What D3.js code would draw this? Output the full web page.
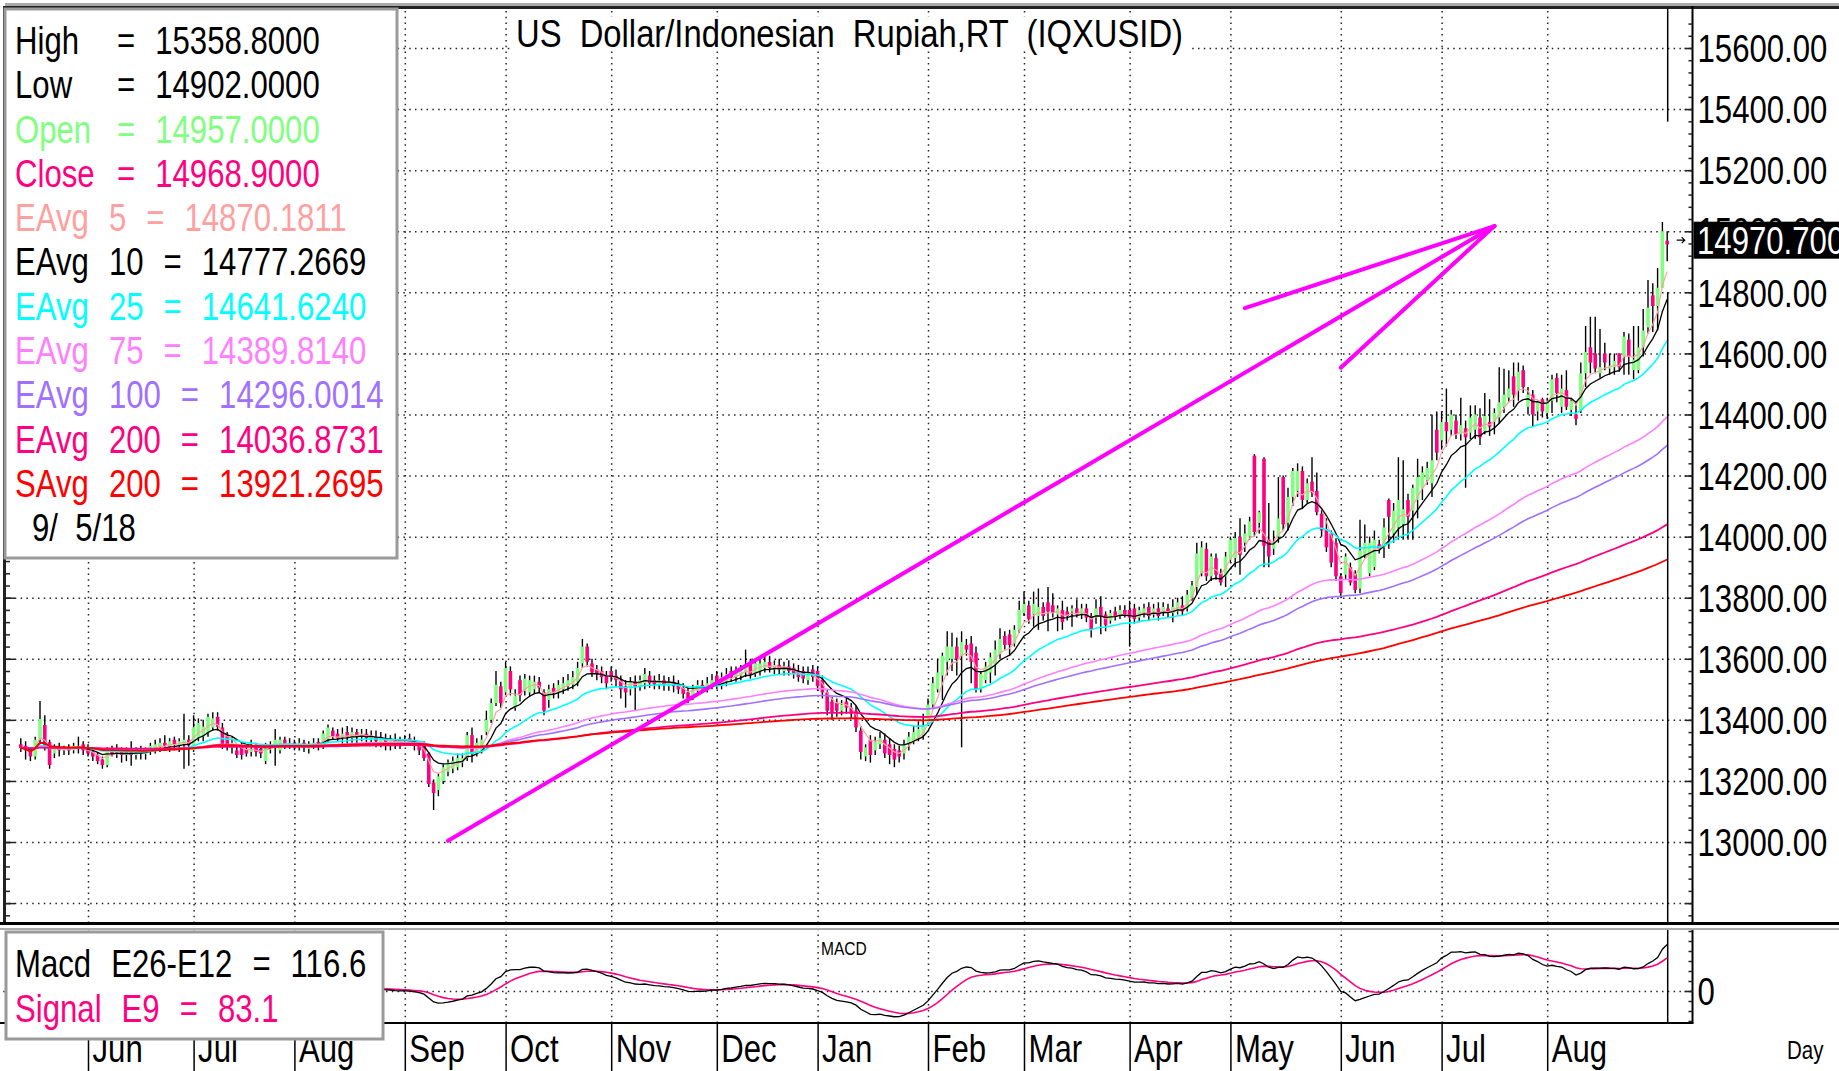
<!DOCTYPE html>
<html>
<head>
<meta charset="utf-8">
<script src="https://cdn.jsdelivr.net/npm/d3@7"></script>
<style>
  body { margin: 0; background: #fff; overflow: hidden; }
  text { font-family: "Liberation Sans", Arial, sans-serif; white-space: pre; }
</style>
</head>
<body>
<svg id="chart" width="1839" height="1071"></svg>
<script>
// ---- data ---------------------------------------------------------------
const title = "US  Dollar/Indonesian  Rupiah,RT  (IQXUSID)";

// trading days per month, May'17 (partial) .. Sep'18 (partial)
const monthDays = [14, 22, 21, 23, 21, 22, 22, 21, 23, 20, 22, 21, 23, 21, 22, 23, 3];
const monthLabels = ["Jun", "Jul", "Aug", "Sep", "Oct", "Nov", "Dec", "Jan", "Feb", "Mar", "Apr", "May", "Jun", "Jul", "Aug"];

// daily candles [open, high, low, close]
const ohlc = [
  // May 2017
  [13320,13340,13295,13308],[13315,13330,13270,13300],[13300,13310,13265,13280],[13280,13345,13270,13335],
  [13335,13462,13320,13403],[13383,13415,13300,13318],[13327,13335,13240,13252],[13290,13320,13275,13305],
  [13310,13325,13280,13300],[13300,13315,13285,13305],[13310,13320,13285,13300],[13300,13325,13290,13315],
  [13305,13345,13290,13315],[13320,13330,13285,13300],
  // Jun 2017
  [13305,13320,13280,13290],[13295,13305,13265,13280],[13285,13295,13255,13265],[13270,13280,13240,13252],
  [13252,13310,13245,13300],[13305,13315,13280,13290],[13290,13320,13275,13300],[13300,13310,13260,13285],
  [13285,13310,13265,13295],[13295,13330,13250,13285],[13285,13310,13270,13300],[13300,13315,13270,13290],
  [13288,13310,13270,13300],[13295,13325,13285,13315],[13305,13335,13290,13320],[13310,13340,13295,13325],
  [13325,13350,13300,13315],[13310,13340,13295,13330],[13335,13345,13300,13318],[13315,13340,13295,13330],
  [13320,13420,13240,13335],[13335,13350,13250,13320],
  // Jul 2017
  [13301,13415,13295,13376],[13340,13405,13330,13390],[13345,13400,13330,13378],[13357,13420,13345,13410],
  [13375,13425,13365,13405],[13410,13425,13365,13377],[13375,13390,13305,13315],[13350,13360,13300,13315],
  [13310,13345,13290,13325],[13300,13320,13275,13285],[13310,13325,13270,13285],[13305,13320,13280,13290],
  [13295,13335,13280,13305],[13310,13325,13280,13295],[13305,13315,13275,13290],[13265,13325,13255,13315],
  [13315,13330,13290,13305],[13310,13370,13250,13335],[13300,13345,13290,13335],[13335,13345,13305,13320],
  [13320,13340,13305,13325],
  // Aug 2017
  [13325,13335,13300,13310],[13310,13340,13300,13325],[13325,13335,13295,13310],[13305,13330,13290,13320],
  [13315,13340,13305,13325],[13328,13340,13300,13315],[13315,13365,13305,13355],[13335,13385,13325,13375],
  [13365,13375,13335,13345],[13355,13370,13330,13340],[13340,13375,13320,13355],[13360,13380,13320,13345],
  [13340,13375,13325,13360],[13360,13370,13320,13345],[13345,13370,13330,13355],[13355,13370,13325,13340],
  [13335,13365,13320,13350],[13345,13365,13310,13330],[13325,13360,13310,13340],[13340,13355,13300,13320],
  [13315,13350,13300,13335],[13335,13355,13305,13320],[13320,13345,13305,13330],
  // Sep 2017
  [13330,13350,13315,13335],[13340,13355,13315,13325],[13330,13345,13300,13315],[13320,13330,13285,13300],
  [13325,13330,13265,13275],[13290,13295,13180,13190],[13195,13205,13105,13160],[13170,13225,13150,13215],
  [13200,13255,13190,13245],[13230,13270,13215,13260],[13240,13280,13225,13265],[13245,13290,13235,13275],
  [13260,13290,13245,13275],[13275,13360,13265,13350],[13350,13375,13260,13290],[13290,13340,13280,13325],
  [13300,13350,13290,13335],[13360,13430,13350,13400],[13400,13470,13390,13455],[13455,13560,13445,13515],
  [13510,13525,13440,13455],
  // Oct 2017
  [13490,13590,13480,13570],[13560,13575,13480,13500],[13440,13500,13430,13480],[13530,13545,13460,13480],
  [13495,13550,13480,13535],[13490,13545,13475,13530],[13500,13545,13485,13525],[13525,13540,13490,13505],
  [13490,13500,13415,13430],[13465,13515,13440,13500],[13505,13520,13470,13490],[13490,13530,13470,13515],
  [13500,13540,13485,13520],[13510,13550,13495,13530],[13515,13560,13500,13540],[13525,13590,13510,13570],
  [13585,13665,13570,13640],[13640,13650,13575,13590],[13585,13600,13540,13555],[13565,13580,13530,13550],
  [13560,13575,13520,13540],[13545,13560,13500,13520],
  // Nov 2017
  [13560,13575,13525,13540],[13545,13565,13510,13530],[13530,13545,13470,13500],[13510,13530,13440,13490],
  [13500,13540,13480,13525],[13525,13545,13430,13510],[13510,13545,13495,13530],[13520,13570,13500,13550],
  [13545,13560,13505,13520],[13530,13545,13500,13515],[13515,13550,13500,13530],[13530,13545,13495,13515],
  [13510,13540,13495,13525],[13525,13545,13490,13510],[13515,13530,13485,13500],[13505,13520,13470,13485],
  [13490,13505,13455,13470],[13480,13515,13465,13500],[13495,13530,13480,13515],[13515,13530,13490,13505],
  [13500,13540,13490,13520],[13510,13550,13500,13530],
  // Dec 2017
  [13545,13560,13500,13515],[13515,13555,13500,13540],[13525,13570,13510,13550],[13560,13575,13525,13540],
  [13540,13575,13525,13560],[13545,13580,13530,13560],[13555,13630,13540,13580],[13585,13600,13535,13550],
  [13550,13600,13540,13585],[13560,13600,13545,13585],[13570,13610,13555,13590],[13590,13610,13555,13570],
  [13565,13595,13550,13580],[13580,13600,13550,13565],[13560,13590,13545,13575],[13575,13595,13545,13560],
  [13570,13585,13535,13550],[13560,13580,13525,13540],[13560,13575,13520,13535],[13530,13575,13515,13555],
  [13565,13580,13525,13540],
  // Jan 2018
  [13560,13575,13495,13510],[13530,13545,13470,13490],[13490,13500,13415,13430],[13460,13475,13400,13425],
  [13455,13470,13410,13430],[13430,13465,13415,13450],[13460,13475,13420,13440],[13440,13455,13405,13420],
  [13430,13445,13360,13375],[13365,13380,13270,13295],[13280,13320,13265,13310],[13335,13350,13260,13285],
  [13300,13345,13285,13330],[13320,13360,13305,13340],[13335,13355,13275,13290],[13320,13340,13255,13285],
  [13305,13320,13245,13270],[13300,13315,13260,13280],[13290,13335,13270,13320],[13320,13360,13300,13345],
  [13330,13380,13320,13360],[13340,13395,13330,13370],[13350,13420,13335,13380],
  // Feb 2018
  [13390,13470,13380,13450],[13450,13540,13440,13520],[13500,13600,13490,13555],[13545,13620,13465,13610],
  [13590,13690,13545,13640],[13600,13685,13560,13640],[13640,13670,13545,13600],[13610,13690,13310,13655],
  [13645,13665,13610,13630],[13650,13675,13520,13590],[13620,13640,13490,13500],[13500,13560,13490,13550],
  [13530,13590,13520,13575],[13555,13620,13520,13605],[13580,13660,13545,13630],[13615,13700,13600,13665],
  [13675,13690,13630,13645],[13680,13695,13610,13645],[13650,13710,13640,13695],[13695,13790,13685,13760],
  // Mar 2018
  [13750,13820,13740,13780],[13775,13790,13715,13730],[13745,13820,13705,13780],[13740,13830,13695,13770],
  [13770,13785,13725,13740],[13785,13835,13690,13755],[13775,13815,13735,13750],[13745,13775,13690,13765],
  [13760,13790,13695,13720],[13755,13770,13725,13740],[13755,13775,13705,13765],[13765,13795,13735,13745],
  [13745,13780,13730,13765],[13765,13780,13720,13735],[13740,13750,13670,13695],[13735,13795,13715,13765],
  [13770,13805,13680,13740],[13745,13755,13690,13710],[13725,13760,13715,13750],[13755,13770,13725,13740],
  [13740,13775,13730,13760],[13760,13775,13735,13745],
  // Apr 2018
  [13760,13790,13640,13735],[13765,13780,13715,13730],[13735,13770,13720,13760],[13745,13780,13735,13765],
  [13770,13785,13725,13740],[13745,13780,13735,13765],[13765,13785,13725,13740],[13750,13785,13740,13770],
  [13765,13780,13735,13750],[13750,13795,13720,13770],[13755,13800,13745,13785],[13775,13805,13740,13755],
  [13765,13825,13755,13810],[13800,13855,13790,13840],[13835,13980,13810,13945],[13880,13985,13870,13965],
  [13960,13980,13855,13870],[13870,13945,13855,13935],[13930,13945,13860,13875],[13880,13895,13840,13850],
  [13870,13950,13835,13935],
  // May 2018
  [13925,14000,13915,13990],[13930,14015,13900,13995],[14000,14060,13875,13940],[13980,14040,13950,14010],
  [14000,14065,13990,14050],[14265,14270,14000,14015],[14045,14085,14010,14080],[14255,14260,13900,13970],
  [13990,14110,13900,13935],[13960,14020,13940,13980],[14000,14195,13980,14060],[14195,14200,14020,14040],
  [14045,14160,14020,14130],[14130,14225,14100,14215],[14150,14240,14130,14215],[14215,14230,14090,14120],
  [14120,14190,14110,14175],[14180,14260,14130,14145],[14150,14210,14070,14080],[14075,14090,14000,14020],
  [14025,14060,13950,13965],[14010,14020,13900,13915],[13980,13995,13855,13870],
  // Jun 2018
  [13870,13880,13800,13815],[13875,13945,13860,13935],[13900,13915,13840,13850],[13880,13890,13815,13825],
  [13830,14055,13815,13955],[13940,14040,13930,13980],[13880,14000,13870,13980],[13900,14020,13890,13990],
  [13975,13990,13945,13960],[13965,14060,13930,14030],[14120,14125,13960,14065],[14010,14110,13980,14085],
  [14030,14260,13990,14120],[14040,14250,13990,14090],[14120,14140,13990,14065],[14085,14170,13990,14160],
  [14120,14255,14060,14195],[14160,14230,14120,14210],[14185,14245,14170,14225],[14175,14400,14130,14250],
  [14350,14410,14250,14275],
  // Jul 2018
  [14315,14410,14285,14375],[14375,14485,14295,14345],[14350,14415,14330,14400],[14380,14400,14320,14335],
  [14335,14455,14315,14365],[14355,14380,14160,14325],[14340,14430,14320,14390],[14350,14430,14320,14400],
  [14390,14420,14300,14325],[14345,14470,14335,14395],[14375,14450,14330,14360],[14375,14420,14335,14405],
  [14390,14555,14370,14440],[14425,14550,14405,14465],[14455,14545,14440,14485],[14525,14570,14425,14465],
  [14480,14570,14445,14540],[14545,14560,14470,14490],[14425,14490,14400,14465],[14465,14480,14360,14400],
  [14410,14445,14380,14440],[14450,14455,14390,14410],
  // Aug 2018
  [14405,14455,14385,14445],[14445,14530,14405,14515],[14520,14535,14440,14470],[14425,14530,14405,14485],
  [14480,14545,14415,14425],[14415,14450,14395,14445],[14400,14440,14365,14385],[14415,14570,14405,14535],
  [14535,14690,14490,14605],[14620,14720,14535,14570],[14600,14720,14535,14550],[14535,14680,14520,14555],
  [14600,14635,14545,14570],[14550,14600,14530,14560],[14555,14600,14530,14575],[14600,14600,14540,14555],
  [14590,14670,14530,14655],[14645,14665,14530,14590],[14545,14690,14515,14580],[14545,14690,14535,14620],
  [14620,14745,14590,14675],[14685,14840,14665,14750],[14790,14830,14670,14755],
  // Sep 2018
  [14755,14880,14675,14815],[14815,15030,14815,15000],[14969,15000,14902,14957]
];

// hand drawn trend lines, [day index, price]
const trendLines = [
  [[89, 13004], [307, 15017]],
  [[255, 14748], [307, 15017]],
  [[275, 14553], [307, 15017]]
];

const lastPrice = 14970.7;
const cursorGap = [15358.8, 14800]; // cursor line hidden between these prices

const maSpecs = [["ema", 5], ["ema", 10], ["ema", 25], ["ema", 75], ["ema", 100], ["ema", 200], ["sma", 200]];

const legendNames = ["High", "Low", "Open", "Close", "EAvg 5", "EAvg 10", "EAvg 25", "EAvg 75", "EAvg 100", "EAvg 200", "SAvg 200"];
const legendValues = ["15358.8000", "14902.0000", "14957.0000", "14968.9000", "14870.1811", "14777.2669",
  "14641.6240", "14389.8140", "14296.0014", "14036.8731", "13921.2695"];
const legendDate = "9/  5/18";
const macdNames = ["Macd E26-E12", "Signal E9"];
const macdValues = ["116.6", "83.1"];

const priceTicks = [13000, 13200, 13400, 13600, 13800, 14000, 14200, 14400, 14600, 14800, 15000, 15200, 15400, 15600];

// ---- styles -------------------------------------------------------------
const upColor = "#80ff80", downColor = "#ff0080";
const maColors = ["#ffa0a0", "#000000", "#00ffff", "#ff80ff", "#a070ff", "#ff0080", "#ff0000"];
const maWidths = [1.2, 1.3, 1.6, 1.6, 1.6, 1.8, 1.8];
const legendColors = ["#000", "#000", "#80ff80", "#ff0080", "#ffa0a0", "#000", "#00ffff", "#ff80ff", "#a070ff", "#ff0080", "#ff0000"];

const W = 1839, H = 1071;
const mainTop = 8, mainBottom = 923, plotLeft = 5, axisX = 1692.5;
const macdTop = 930, macdBottom = 1023;
const fs = 38;
const squeeze = 0.82; // arial narrow look: horizontally squeezed arial

// ---- indicators ---------------------------------------------------------
const closes = ohlc.map(d => d[3]);
function ema(vals, n) {
  const k = 2 / (n + 1);
  let e = vals[0];
  return vals.map((v, i) => i === 0 ? e : (e = v * k + e * (1 - k)));
}
function sma(vals, n) {
  return vals.map((v, i) => d3.mean(vals.slice(Math.max(0, i - n + 1), i + 1)));
}
const maSeries = maSpecs.map(([t, n]) => t === "ema" ? ema(closes, n) : sma(closes, n));
const e12 = ema(closes, 12), e26 = ema(closes, 26);
const macd = e12.map((v, i) => v - e26[i]);
const signal = ema(macd, 9);

const monthStarts = Array.from(d3.cumsum([0, ...monthDays.slice(0, -1)]));
const tickDays = monthStarts.slice(1, 1 + monthLabels.length);

// ---- scales -------------------------------------------------------------
const x = d3.scaleLinear().domain([0, ohlc.length - 1]).range([20.8, 1667.2]);
const y = d3.scaleLinear().domain([12800, 15600]).range([903.1, 48]);
const yM = d3.scaleLinear().domain([-100, 150]).range([1031, 931]);

const svg = d3.select("#chart");
svg.append("rect").attr("width", W).attr("height", H).attr("fill", "#fff");

// text helper: squeezed text placed at (px, py)
function ntext(g, px, py, str, size, color) {
  return g.append("text")
    .attr("x", px / squeeze).attr("y", py)
    .attr("transform", `scale(${squeeze},1)`)
    .attr("font-size", size).attr("fill", color || "#000")
    .text(str);
}
function tlen(t) { return t.node().getComputedTextLength() * squeeze; }

const defs = svg.append("defs");
defs.append("clipPath").attr("id", "clipMain").append("rect")
  .attr("x", plotLeft).attr("y", mainTop).attr("width", axisX - plotLeft).attr("height", mainBottom - mainTop);
defs.append("clipPath").attr("id", "clipMacd").append("rect")
  .attr("x", 0).attr("y", macdTop).attr("width", axisX).attr("height", macdBottom - macdTop);

function dotted(g) {
  g.select(".domain").remove();
  g.selectAll("line").attr("stroke", "#222").attr("stroke-width", 1.5).attr("stroke-dasharray", "1.5,4.3");
}

// gridlines
svg.append("g").attr("transform", `translate(${axisX},0)`)
  .call(d3.axisLeft(y).ticks(14).tickSize(axisX - plotLeft).tickFormat(""))
  .call(dotted);
svg.append("g").attr("transform", `translate(0,${mainBottom})`)
  .call(d3.axisTop(x).tickValues(tickDays).tickSize(mainBottom - mainTop).tickFormat(""))
  .call(dotted);
svg.append("g").attr("transform", `translate(0,${macdBottom})`)
  .call(d3.axisTop(x).tickValues(tickDays).tickSize(macdBottom - macdTop).tickFormat(""))
  .call(dotted);
svg.append("g").attr("transform", `translate(${axisX},0)`)
  .call(d3.axisLeft(yM).tickValues([0]).tickSize(axisX).tickFormat(""))
  .call(dotted);

// candles
const cg = svg.append("g").attr("clip-path", "url(#clipMain)");
cg.append("g").selectAll("line").data(ohlc).join("line")
  .attr("x1", (d, i) => x(i)).attr("x2", (d, i) => x(i))
  .attr("y1", d => y(d[1])).attr("y2", d => y(d[2]))
  .attr("stroke", "#000").attr("stroke-width", 1.4);
cg.append("g").selectAll("rect").data(ohlc).join("rect")
  .attr("x", (d, i) => x(i) - 1.8).attr("width", 3.6)
  .attr("y", d => y(Math.max(d[0], d[3])))
  .attr("height", d => Math.max(1.5, Math.abs(y(d[0]) - y(d[3]))))
  .attr("fill", d => d[3] >= d[0] ? upColor : downColor);

// moving averages
const line = d3.line().x((d, i) => x(i)).y(d => y(d));
const mg = svg.append("g").attr("clip-path", "url(#clipMain)").attr("fill", "none");
maSeries.forEach((s, k) => {
  mg.append("path").attr("d", line(s)).attr("stroke", maColors[k]).attr("stroke-width", maWidths[k]);
});

// trend lines
svg.append("g").selectAll("path").data(trendLines).join("path")
  .attr("d", d3.line().x(d => x(d[0])).y(d => y(d[1])))
  .attr("fill", "none").attr("stroke", "#ff00ff").attr("stroke-width", 4).attr("stroke-linecap", "round");

// cursor line
const cx = x(ohlc.length - 1) + 0.5;
svg.append("g").attr("stroke", "#000").attr("stroke-width", 1.5)
  .selectAll("line").data([[mainTop, y(cursorGap[0])], [y(cursorGap[1]), mainBottom], [macdTop, macdBottom]])
  .join("line").attr("x1", cx).attr("x2", cx).attr("y1", d => d[0]).attr("y2", d => d[1]);

// frame
svg.append("rect").attr("x", plotLeft).attr("y", 3).attr("width", W - plotLeft).attr("height", 3).attr("fill", "#aaa");
svg.append("line").attr("x1", plotLeft).attr("x2", W).attr("y1", 7.5).attr("y2", 7.5).attr("stroke", "#222").attr("stroke-width", 3);
svg.append("line").attr("x1", 4.5).attr("x2", 4.5).attr("y1", 6).attr("y2", mainBottom).attr("stroke", "#222").attr("stroke-width", 3);
svg.append("line").attr("x1", 0).attr("x2", W).attr("y1", 923.5).attr("y2", 923.5).attr("stroke", "#000").attr("stroke-width", 3);
svg.append("line").attr("x1", 0).attr("x2", W).attr("y1", 929).attr("y2", 929).attr("stroke", "#aaa").attr("stroke-width", 2);
svg.append("line").attr("x1", axisX).attr("x2", axisX).attr("y1", 6).attr("y2", mainBottom).attr("stroke", "#000").attr("stroke-width", 2);
svg.append("line").attr("x1", axisX).attr("x2", axisX).attr("y1", macdTop).attr("y2", macdBottom).attr("stroke", "#000").attr("stroke-width", 2);
svg.append("line").attr("x1", 0).attr("x2", axisX + 1).attr("y1", macdBottom).attr("y2", macdBottom).attr("stroke", "#000").attr("stroke-width", 2);

// axis ticks (left and right of main panel, right of macd panel)
function ticksOnly(g) { g.select(".domain").remove(); g.selectAll("line").attr("stroke", "#222").attr("stroke-width", 1.5); }
const minorVals = d3.range(12760, 15720, 40);
svg.append("g").attr("transform", `translate(${axisX},0)`).call(d3.axisLeft(y).tickValues(minorVals).tickSize(4).tickFormat("")).call(ticksOnly);
svg.append("g").attr("transform", `translate(${axisX},0)`).call(d3.axisLeft(y).ticks(14).tickSize(8).tickFormat("")).call(ticksOnly);
svg.append("g").attr("transform", "translate(5,0)").call(d3.axisRight(y).tickValues(minorVals.filter(v => y(v) > mainTop + 2)).tickSize(5).tickFormat("")).call(ticksOnly);
svg.append("g").attr("transform", "translate(5,0)").call(d3.axisRight(y).ticks(14).tickSize(10).tickFormat("")).call(ticksOnly);
svg.append("g").attr("transform", `translate(${axisX},0)`).call(d3.axisLeft(yM).tickValues(d3.range(-75, 151, 25)).tickSize(4).tickFormat("")).call(ticksOnly);
svg.append("g").attr("transform", `translate(${axisX},0)`).call(d3.axisLeft(yM).tickValues([0]).tickSize(8).tickFormat("")).call(ticksOnly);

// right axis labels
function squeezeAxisText(g, px) {
  g.select(".domain").remove();
  g.attr("font-size", fs).attr("font-family", null);
  g.selectAll("text").attr("fill", "#000").attr("x", px / squeeze).attr("transform", `scale(${squeeze},1)`);
}
svg.append("g").attr("transform", `translate(${axisX},0)`)
  .call(d3.axisRight(y).tickValues(priceTicks).tickSize(0).tickFormat(d3.format(".2f")))
  .call(g => squeezeAxisText(g, 5))
  .selectAll("text").attr("dy", "0.36em");
svg.append("g").attr("transform", `translate(${axisX},0)`)
  .call(d3.axisRight(yM).tickValues([0]).tickSize(0).tickFormat(d3.format("d")))
  .call(g => squeezeAxisText(g, 5))
  .selectAll("text").attr("dy", "0.36em");

// last price box
svg.append("rect").attr("x", axisX + 1).attr("y", y(lastPrice) - 18.5).attr("width", W - axisX).attr("height", 37).attr("fill", "#000");
ntext(svg, axisX + 4.5, y(lastPrice), d3.format(".3f")(lastPrice), fs, "#fff").attr("dy", "0.36em");
const ay = y(lastPrice);
svg.append("path").attr("d", `M${cx + 9},${ay} h8 M${cx + 14},${ay - 3} l3,3 l-3,3`)
  .attr("stroke", "#000").attr("stroke-width", 1.2).attr("fill", "none");

// title
svg.append("rect").attr("x", 512).attr("y", 17).attr("width", 676).attr("height", 34).attr("fill", "#fff");
svg.append("text").attr("x", 516).attr("y", 47).attr("font-size", fs)
  .attr("textLength", 667).attr("lengthAdjust", "spacingAndGlyphs").text(title);

// price legend
svg.append("rect").attr("x", 5).attr("y", 9).attr("width", 392).attr("height", 549)
  .attr("fill", "#fff").attr("stroke", "#9a9a9a").attr("stroke-width", 3);
const gap = 20;
function legendRow(g, name, value, color, yb, eqX) {
  const [label, period] = name.split(" ");
  const t1 = ntext(g, 15, yb, label, fs, color);
  let xe = eqX;
  if (period) {
    const px = 15 + tlen(t1) + gap;
    const t2 = ntext(g, px, yb, period, fs, color);
    xe = px + tlen(t2) + gap;
  }
  const t3 = ntext(g, xe, yb, "=", fs, color);
  ntext(g, xe + tlen(t3) + gap, yb, value, fs, color);
}
const lg = svg.append("g");
legendNames.forEach((n, i) => legendRow(lg, n, legendValues[i], legendColors[i], 54 + i * 44.3, 117));
ntext(lg, 32, 54 + 11 * 44.3, legendDate, fs);

// macd lines
const lineM = d3.line().x((d, i) => x(i)).y(d => yM(d));
const mgm = svg.append("g").attr("clip-path", "url(#clipMacd)").attr("fill", "none");
mgm.append("path").attr("d", lineM(signal)).attr("stroke", "#ff0080").attr("stroke-width", 1.6);
mgm.append("path").attr("d", lineM(macd)).attr("stroke", "#000").attr("stroke-width", 1.3);
ntext(svg, 821, 955, "MACD", 19);

// month axis
const xa = svg.append("g").attr("transform", `translate(0,${macdBottom})`)
  .call(d3.axisBottom(x).tickValues(tickDays).tickSize(H - macdBottom).tickFormat((d, i) => monthLabels[i]));
squeezeAxisText(xa, 4);
xa.selectAll("line").attr("stroke", "#000").attr("stroke-width", 1.5);
xa.selectAll("text").attr("y", 39).attr("dy", null).attr("text-anchor", "start");

// macd legend (drawn over the first month labels)
svg.append("rect").attr("x", 6).attr("y", 932).attr("width", 377).attr("height", 107)
  .attr("fill", "#fff").attr("stroke", "#9a9a9a").attr("stroke-width", 3);
const ml = svg.append("g");
legendRow(ml, macdNames[0], macdValues[0], "#000", 977, 0);
legendRow(ml, macdNames[1], macdValues[1], "#ff0080", 1022, 0);

ntext(svg, 1787, 1059, "Day", 25);
</script>
</body>
</html>
